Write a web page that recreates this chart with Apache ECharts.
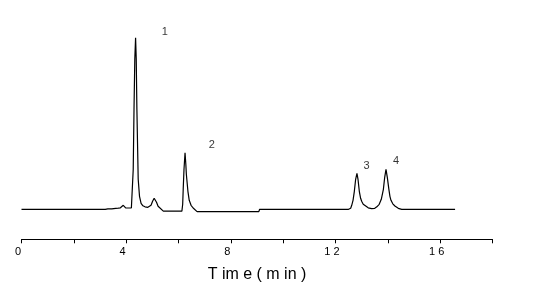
<!DOCTYPE html>
<html>
<head>
<meta charset="utf-8">
<script src="https://cdn.jsdelivr.net/npm/echarts@6/dist/echarts.min.js"></script>
<style>html,body{margin:0;padding:0;background:#fff;}#c{width:547px;height:293px;}</style>
</head>
<body>
<div id="c"></div>
<script>
// Time (min) values of the trace vertices
var traceTime = [
  0, 1.93, 1.97, 2.03, 2.99, 3.03, 3.08, 3.20, 3.24, 3.30, 3.45, 3.50, 3.60, 3.70, 3.78, 3.84, 3.89, 3.94, 3.98, 4.08, 4.20,
  4.24, 4.27, 4.30, 4.33, 4.36, 4.385, 4.41, 4.46, 4.51, 4.57, 4.64, 4.72, 4.83,
  4.95, 5.01, 5.07, 5.12, 5.16, 5.22, 5.29, 5.42,
  6.13, 6.16, 6.18, 6.21, 6.25, 6.28, 6.30, 6.36, 6.41, 6.48, 6.56, 6.71,
  8.00, 9.07, 9.10, 9.50, 10.80,
  12.50, 12.58, 12.62, 12.67, 12.72, 12.77, 12.82, 12.86, 12.91, 12.96, 13.00, 13.06, 13.13, 13.25, 13.38,
  13.50, 13.58, 13.67, 13.75, 13.83, 13.88, 13.93, 13.98, 14.04, 14.08, 14.12, 14.19, 14.27, 14.40, 14.53,
  15.50, 16.57
];
// Detector signal (arbitrary units) at those times
var traceSignal = [
  0, 0, 1, 0, 0, 1, 0, 0, 1, 0.5, 0.5, 1.3, 1, 1.2, 1.5, 3, 4, 3, 1.5, 1.3, 1.5,
  3, 40, 100, 150, 171.5, 150, 100, 30, 13, 6, 3.5, 2.5, 2,
  4, 8, 11, 9, 7, 3, 1, -1.8,
  -1.8, 5, 20, 40, 56.6, 45, 35, 18, 9, 4, 1.3, -2.3,
  -2.3, -2.3, 0, 0, 0,
  0, 1, 4, 9, 18, 30, 36, 30, 18, 11, 8, 5, 3.3, 1.5, 0.6,
  1, 2.5, 5, 10, 20, 32, 40, 32, 20, 13, 9, 5.5, 3.3, 1, 0,
  0, 0
];
// Peak number labels: text, time, signal
var peakNames = ['1', '2', '3', '4'];
var peakLabelTime = [5.48, 7.27, 13.19, 14.31];
var peakLabelSignal = [177, 64.3, 43.6, 48.6];

var xMin = 0, xMax = 18, xInterval = 2, labelStep = 4;
var axisName = 'T im e ( m in )';

var lineData = traceTime.map(function (t, i) { return [t, traceSignal[i]]; });
var labelData = peakNames.map(function (n, i) { return { value: [peakLabelTime[i], peakLabelSignal[i]], name: n }; });

var chart = echarts.init(document.getElementById('c'));
chart.setOption({
  animation: false,
  backgroundColor: '#ffffff',
  grid: { left: 21.5, right: 54.5, top: 20, bottom: 53.7, containLabel: false },
  xAxis: {
    type: 'value', min: xMin, max: xMax, interval: xInterval,
    axisLine: { show: true, onZero: false, lineStyle: { color: '#000', width: 1 } },
    axisTick: { show: true, length: 4, lineStyle: { color: '#000', width: 1 } },
    splitLine: { show: false },
    axisLabel: {
      margin: 7, color: '#000', fontFamily: 'Liberation Sans, Arial, sans-serif', fontSize: 11,
      padding: [0, 7, 0, 0],
      formatter: function (v) { return (v % labelStep === 0 && v < xMax) ? String(v).split('').join(' ') : ''; }
    },
    name: axisName, nameLocation: 'middle', nameGap: 27,
    nameTextStyle: { color: '#000', fontFamily: 'Liberation Sans, Arial, sans-serif', fontSize: 16 }
  },
  yAxis: {
    type: 'value', min: -30, max: 189.3, show: false, splitLine: { show: false }
  },
  series: [
    {
      type: 'line', data: lineData, symbol: 'none', smooth: false,
      lineStyle: { color: '#000', width: 1.2 }, clip: false
    },
    {
      type: 'scatter', data: labelData, symbolSize: 0, silent: true,
      label: {
        show: true, position: 'inside', formatter: '{b}', color: '#000',
        fontFamily: 'Liberation Sans, Arial, sans-serif', fontSize: 11
      }
    }
  ]
});
</script>
</body>
</html>
